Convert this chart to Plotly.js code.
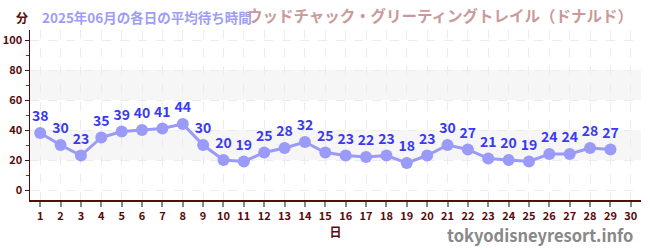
<!DOCTYPE html>
<html><head><meta charset="utf-8">
<script src="https://cdn.plot.ly/plotly-3.0.1.min.js"></script>
<style>html,body{margin:0;padding:0;background:#fff;}#chart{width:650px;height:250px;}
#topline{position:absolute;left:0;top:0;width:650px;height:1px;background:#e4e4fa;}</style>
</head><body><div id="topline"></div><div id="chart"></div>
<script>
const days = [1,2,3,4,5,6,7,8,9,10,11,12,13,14,15,16,17,18,19,20,21,22,23,24,25,26,27,28,29];
const waits = [38,30,23,35,39,40,41,44,30,20,19,25,28,32,25,23,22,23,18,23,30,27,21,20,19,24,24,28,27];
const xTicks = [1,2,3,4,5,6,7,8,9,10,11,12,13,14,15,16,17,18,19,20,21,22,23,24,25,26,27,28,29,30];
const yTicks = [0,20,40,60,80,100];
const bands = [[20,40],[60,80]];
const yUnit = '分';
const xUnit = '日';
const subTitle = '2025年06月の各日の平均待ち時間';
const mainTitle = 'ウッドチャック・グリーティングトレイル（ドナルド）';
const site = 'tokyodisneyresort.info';

const F = '"Noto Sans CJK JP", "Noto Sans", sans-serif';
const dark = '#5a0a0a';

const shapes = bands.map(b => ({type:'rect', xref:'paper', yref:'y', x0:0, x1:1, y0:b[0], y1:b[1],
  fillcolor:'rgba(0,0,0,0.035)', line:{width:0}, layer:'below'}));

const trace = {
  x: days, y: waits, type:'scatter', mode:'lines+markers+text',
  text: waits.map(String), textposition:'top center',
  textfont:{family:F, size:14, color:'#3a3aee', weight:'bold'},
  line:{color:'#9a9af8', width:3},
  marker:{color:'#9a9af8', size:12},
  cliponaxis:false, hoverinfo:'none'
};

const layout = {
  width:650, height:250,
  margin:{l:30, r:9, t:30, b:50},
  paper_bgcolor:'#fff', plot_bgcolor:'#fff',
  showlegend:false,
  font:{family:F},
  shapes: shapes,
  xaxis:{
    range:[0.5,30.5], tickvals:xTicks, ticktext:xTicks.map(String),
    showline:true, linecolor:dark, linewidth:1.5,
    ticks:'outside', ticklen:5, tickcolor:'#888', tickwidth:2,
    tickfont:{family:F, size:11, color:dark, weight:'bold'},
    showgrid:true, gridcolor:'#ececec', griddash:'dash', gridwidth:1,
    zeroline:false, fixedrange:true,
    title:{text:xUnit, font:{family:F, size:12, color:dark, weight:'bold'}, standoff:6}
  },
  yaxis:{
    range:[-6.67,106.67], tickvals:yTicks,
    showline:true, linecolor:dark, linewidth:1.5,
    ticks:'outside', ticklen:4, tickcolor:'#222', tickwidth:1,
    tickfont:{family:F, size:11, color:dark, weight:'bold'},
    showgrid:true, gridcolor:'#ececec', griddash:'dash', gridwidth:1,
    zeroline:false, fixedrange:true,
    minor:{tickvals:[10,30,50,70,90], ticks:'outside', ticklen:3, tickcolor:'#e00000', showgrid:false}
  },
  annotations:[
    {xref:'paper', yref:'paper', x:-0.013, y:1.076, xanchor:'center', yanchor:'middle', text:'<b>'+yUnit+'</b>', showarrow:false,
     font:{family:F, size:12, color:dark}},
    {xref:'paper', yref:'paper', x:0.016, y:1.076, xanchor:'left', yanchor:'middle', text:'<b>'+subTitle+'</b>', showarrow:false,
     font:{family:F, size:13.5, color:'#9d9df5'}},
    {xref:'paper', yref:'paper', x:0.99, y:1.088, xanchor:'right', yanchor:'middle', text:'<b>'+mainTitle+'</b>', showarrow:false,
     font:{family:F, size:15.5, color:'#c99a9a'}},
    {xref:'paper', yref:'paper', x:0.988, y:-0.205, xanchor:'right', yanchor:'middle', text:'<b>'+site+'</b>', showarrow:false,
     borderpad:0, font:{family:F, size:16.5, color:'#888'}}
  ]
};
Plotly.newPlot('chart', [trace], layout, {displayModeBar:false, staticPlot:true});
</script></body></html>
